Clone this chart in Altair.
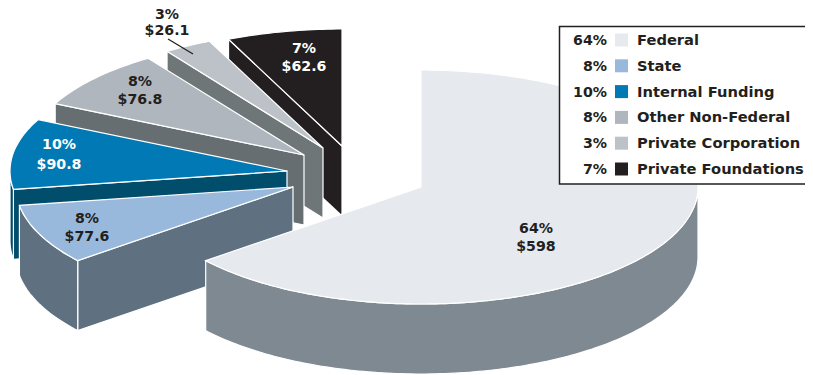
import math
import altair as alt
import pandas as pd

categories = ["Federal", "State", "Internal Funding", "Other Non-Federal", "Private Corporation", "Private Foundations"]
amounts = [598, 77.6, 90.8, 76.8, 26.1, 62.6]
amount_labels = ["$598", "$77.6", "$90.8", "$76.8", "$26.1", "$62.6"]
percents = ["64%", "8%", "10%", "8%", "3%", "7%"]

# styling / layout (page pixels, separate from the data)
top_colors = ["#e6e9ee", "#99b9dc", "#0079b5", "#b0b6be", "#bdc2c9", "#231f20"]
side_colors = ["#7f8992", "#5f7080", "#004d6c", "#666e71", "#6f7678", "#231f20"]
text_colors = ["#231f20", "#231f20", "#ffffff", "#231f20", "#231f20", "#ffffff"]
apexes = [(421, 187), (293, 187), (287, 171), (304, 155), (323, 148), (342, 146)]
label_centres = [(536, 238), (87, 228), (59, 155), (140, 91), (167, 23), (304, 58)]
line_gaps = [9, 9, 10, 9, 8, 9]
RX, RY, DEPTH = 277, 117, 70
M = 8
FONT = "DejaVu Sans"
FS = 14.2
FS_LEG = 14.7
W, H = 797, 367

total = sum(amounts)
starts = []
acc = 0.0
for a in amounts:
    starts.append(acc)
    acc += a / total * 360


def pt(apex, deg, dz=0):
    r = math.radians(deg)
    return [apex[0] + RX * math.sin(r), apex[1] - RY * math.cos(r) + dz]


def arc(apex, a0, a1, dz=0):
    n = max(2, int(abs(a1 - a0)))
    return [pt(apex, a0 + (a1 - a0) * i / n, dz) for i in range(n + 1)]


def feature(ring, fill):
    ring = ring + [ring[0]]
    return {"type": "Feature", "properties": {"fill": fill},
            "geometry": {"type": "Polygon", "coordinates": [ring]}}


features = []
for i in range(len(amounts) - 1, -1, -1):
    apex, a0 = apexes[i], starts[i]
    a1 = a0 + amounts[i] / total * 360
    if i > 0:  # flank on the slice's leading edge
        p = pt(apex, a0)
        features.append(feature([list(apex), p, [p[0], p[1] + DEPTH], [apex[0], apex[1] + DEPTH]], side_colors[i]))
    lo, hi = max(a0, 90), min(a1, 270)
    if lo < hi:  # outer rim, front half only
        features.append(feature(arc(apex, lo, hi) + arc(apex, hi, lo, DEPTH), side_colors[i]))
    features.append(feature([list(apex)] + arc(apex, a0, a1), top_colors[i]))

pie = alt.Chart(alt.Data(values=features)).mark_geoshape(
    stroke="white", strokeWidth=1.2, strokeJoin="miter"
).encode(
    fill=alt.Color("properties.fill:N", scale=None, legend=None)
).project(type="identity", scale=1, translate=[-M, -M])

px = alt.X("x:Q", scale=None, axis=None)
py = alt.Y("y:Q", scale=None, axis=None)

rows = []
for i, (cx, cy) in enumerate(label_centres):
    g = line_gaps[i]
    rows.append({"x": cx - M, "y": cy - g - M, "t": percents[i], "c": text_colors[i]})
    rows.append({"x": cx - M, "y": cy + g - M, "t": amount_labels[i], "c": text_colors[i]})
slice_text = alt.Chart(pd.DataFrame(rows)).mark_text(
    font=FONT, fontWeight="bold", fontSize=FS, align="center", baseline="middle"
).encode(x=px, y=py, text="t:N", color=alt.Color("c:N", scale=None, legend=None))

leader = alt.Chart(pd.DataFrame({"a": [0]})).mark_rule(color="#231f20", strokeWidth=1.3).encode(
    x=alt.value(168 - M), x2=alt.value(193 - M), y=alt.value(39 - M), y2=alt.value(54 - M))

box = alt.Chart(pd.DataFrame({"a": [0]})).mark_rect(fill="white", stroke="#231f20", strokeWidth=1.5).encode(
    x=alt.value(559.5 - M), x2=alt.value(830), y=alt.value(26.5 - M), y2=alt.value(184 - M))

ROW0, ROWH = 40, 25.8
leg = pd.DataFrame({
    "name": categories, "pct": percents, "col": top_colors,
    "y": [ROW0 + ROWH * i - M for i in range(6)],
    "ty": [ROW0 + 1 + ROWH * i - M for i in range(6)],
})
pty = alt.Y("ty:Q", scale=None, axis=None)
swatch = alt.Chart(leg).mark_square(size=169, opacity=1, strokeWidth=0).encode(
    x=alt.value(621.5 - M), y=py, fill=alt.Color("col:N", scale=None, legend=None))
leg_pct = alt.Chart(leg).mark_text(
    font=FONT, fontWeight="bold", fontSize=FS, align="right", baseline="middle", color="#231f20"
).encode(x=alt.value(607 - M), y=pty, text="pct:N")
leg_name = alt.Chart(leg).mark_text(
    font=FONT, fontWeight="bold", fontSize=FS_LEG, align="left", baseline="middle", color="#231f20"
).encode(x=alt.value(637 - M), y=pty, text="name:N")

chart = alt.layer(pie, slice_text, leader, box, swatch, leg_pct, leg_name).resolve_scale(
    x="independent", y="independent", color="independent", fill="independent"
).properties(
    width=W, height=H, padding=0, autosize=alt.AutoSizeParams(type="none"), background="white"
).configure_view(stroke=None)

chart.save("out.html", embed_options={"renderer": "svg", "actions": False})
